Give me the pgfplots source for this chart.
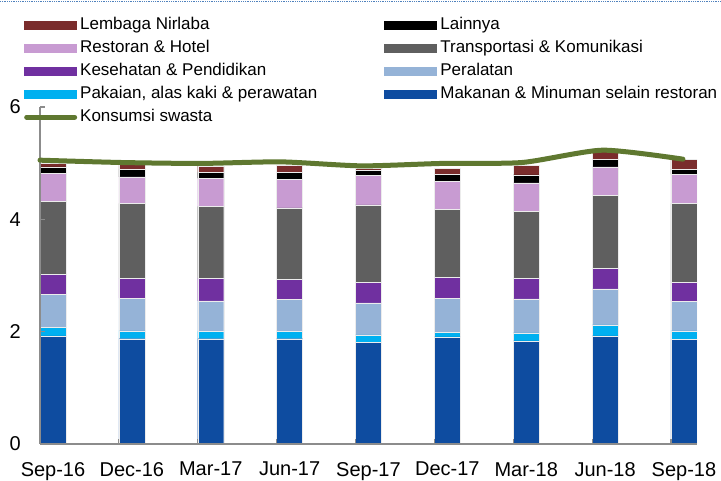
\documentclass[border=0pt]{standalone}
\usepackage{pgfplots}
\usepackage{pgfplotstable}
\pgfplotsset{compat=1.18}
\usepackage{fontspec}
\setmainfont{Liberation Sans}

\definecolor{cmak}{RGB}{14,76,160}
\definecolor{cpak}{RGB}{0,176,240}
\definecolor{cper}{RGB}{149,179,215}
\definecolor{ckes}{RGB}{112,48,160}
\definecolor{ctra}{RGB}{95,95,95}
\definecolor{cres}{RGB}{200,155,210}
\definecolor{clai}{RGB}{0,0,0}
\definecolor{clem}{RGB}{122,44,44}
\definecolor{cline}{RGB}{95,120,48}
\definecolor{caxis}{RGB}{140,140,140}
\definecolor{cdot}{RGB}{79,129,189}

\pgfplotsset{
  swatch/.style={legend image code/.code={\fill[##1] (0pt,-4.5pt) rectangle (53pt,4.5pt);}},
  linelegend/.style={legend image code/.code={\draw[##1] (2.5pt,0pt) -- (50.5pt,0pt);}},
}

\pgfplotstableread{
x mak pak per kes tra res lai lem
0 1.927 0.150 0.587 0.356 1.304 0.493 0.117 0.060
1 1.874 0.142 0.582 0.356 1.329 0.473 0.132 0.089
2 1.874 0.131 0.545 0.404 1.276 0.498 0.106 0.113
3 1.874 0.131 0.570 0.356 1.274 0.510 0.119 0.130
4 1.810 0.135 0.569 0.363 1.381 0.523 0.094 0.040
5 1.909 0.079 0.610 0.374 1.204 0.498 0.125 0.107
6 1.838 0.142 0.605 0.369 1.187 0.508 0.143 0.167
7 1.927 0.196 0.640 0.369 1.293 0.509 0.137 0.196
8 1.863 0.153 0.523 0.338 1.406 0.516 0.089 0.178
}\data

\begin{document}
\begin{tikzpicture}
\useasboundingbox (0pt,0pt) rectangle (721pt,481pt);
\fill[white] (0pt,0pt) rectangle (721pt,481pt);
\draw[cdot, densely dotted, line width=0.8pt] (0pt,479.5pt) -- (721pt,479.5pt);
\begin{axis}[
  at={(40pt,37pt)}, anchor=south west,
  scale only axis, width=657pt, height=337pt,
  xmin=0, xmax=8.33, ymin=0, ymax=6,
  ybar stacked, bar width=26pt, bar shift=13pt,
  axis on top,
  axis x line*=bottom, axis y line*=left,
  axis line style={draw=caxis, line width=1.2pt},
  tick style={draw=caxis, line width=1.2pt},
  tick align=inside, major tick length=5pt,
  xtick={0,1,2,3,4,5,6,7,8},
  xticklabels={Sep-16,Dec-16,Mar-17,Jun-17,Sep-17,Dec-17,Mar-18,Jun-18,Sep-18},
  ytick={0,2,4,6},
  /pgf/number format/assume math mode=true,
  tick label style={font=\fontsize{20}{24}\selectfont, text=black},
  xticklabel style={anchor=north, inner sep=0pt, xshift=13pt, yshift=-18pt},
  yticklabel style={anchor=east, inner sep=0pt, xshift=-19pt},
  legend columns=2,
  legend cell align=left,
  legend style={at={(-0.0244,1.2775)}, anchor=north west, draw=none, fill=none,
    inner sep=0pt, row sep=0pt,
    font=\fontsize{17}{20}\selectfont,
    nodes={inner xsep=3pt, inner ysep=3pt, text height=12.5pt, text depth=4.5pt},
    /tikz/every even column/.append style={column sep=64pt}},
  every axis plot/.append style={draw=white!85!gray, line width=0.4pt},
]
\addplot[fill=cmak, forget plot] table[x=x,y=mak]{\data};
\addplot[fill=cpak, forget plot] table[x=x,y=pak]{\data};
\addplot[fill=cper, forget plot] table[x=x,y=per]{\data};
\addplot[fill=ckes, forget plot] table[x=x,y=kes]{\data};
\addplot[fill=ctra, forget plot] table[x=x,y=tra]{\data};
\addplot[fill=cres, forget plot] table[x=x,y=res]{\data};
\addplot[fill=clai, forget plot] table[x=x,y=lai]{\data};
\addplot[fill=clem, forget plot] table[x=x,y=lem]{\data};

\addlegendimage{swatch, fill=clem, draw=none}
\addlegendentry{Lembaga Nirlaba}
\addlegendimage{swatch, fill=clai, draw=none}
\addlegendentry{Lainnya}
\addlegendimage{swatch, fill=cres, draw=none}
\addlegendentry{Restoran \& Hotel}
\addlegendimage{swatch, fill=ctra, draw=none}
\addlegendentry{Transportasi \& Komunikasi}
\addlegendimage{swatch, fill=ckes, draw=none}
\addlegendentry{Kesehatan \& Pendidikan}
\addlegendimage{swatch, fill=cper, draw=none}
\addlegendentry{Peralatan}
\addlegendimage{swatch, fill=cpak, draw=none}
\addlegendentry{Pakaian, alas kaki \& perawatan}
\addlegendimage{swatch, fill=cmak, draw=none}
\addlegendentry{Makanan \& Minuman selain restoran}
\addlegendimage{linelegend, draw=cline, line width=5pt, line cap=round}
\addlegendentry{Konsumsi swasta}
\end{axis}
\begin{axis}[
  at={(40pt,37pt)}, anchor=south west,
  scale only axis, width=657pt, height=337pt,
  xmin=0, xmax=8.33, ymin=0, ymax=6,
  axis lines=none, clip=false,
]
\addplot[cline, line width=5pt, line cap=round, line join=round, smooth, tension=0.4, mark=none]
  coordinates {(0,5.053) (1.019,5.012) (2.038,4.995) (3.057,5.023) (4.076,4.952) (5.095,4.995) (6.114,5.012) (7.133,5.231) (8.152,5.071)};
\end{axis}
\end{tikzpicture}
\end{document}
